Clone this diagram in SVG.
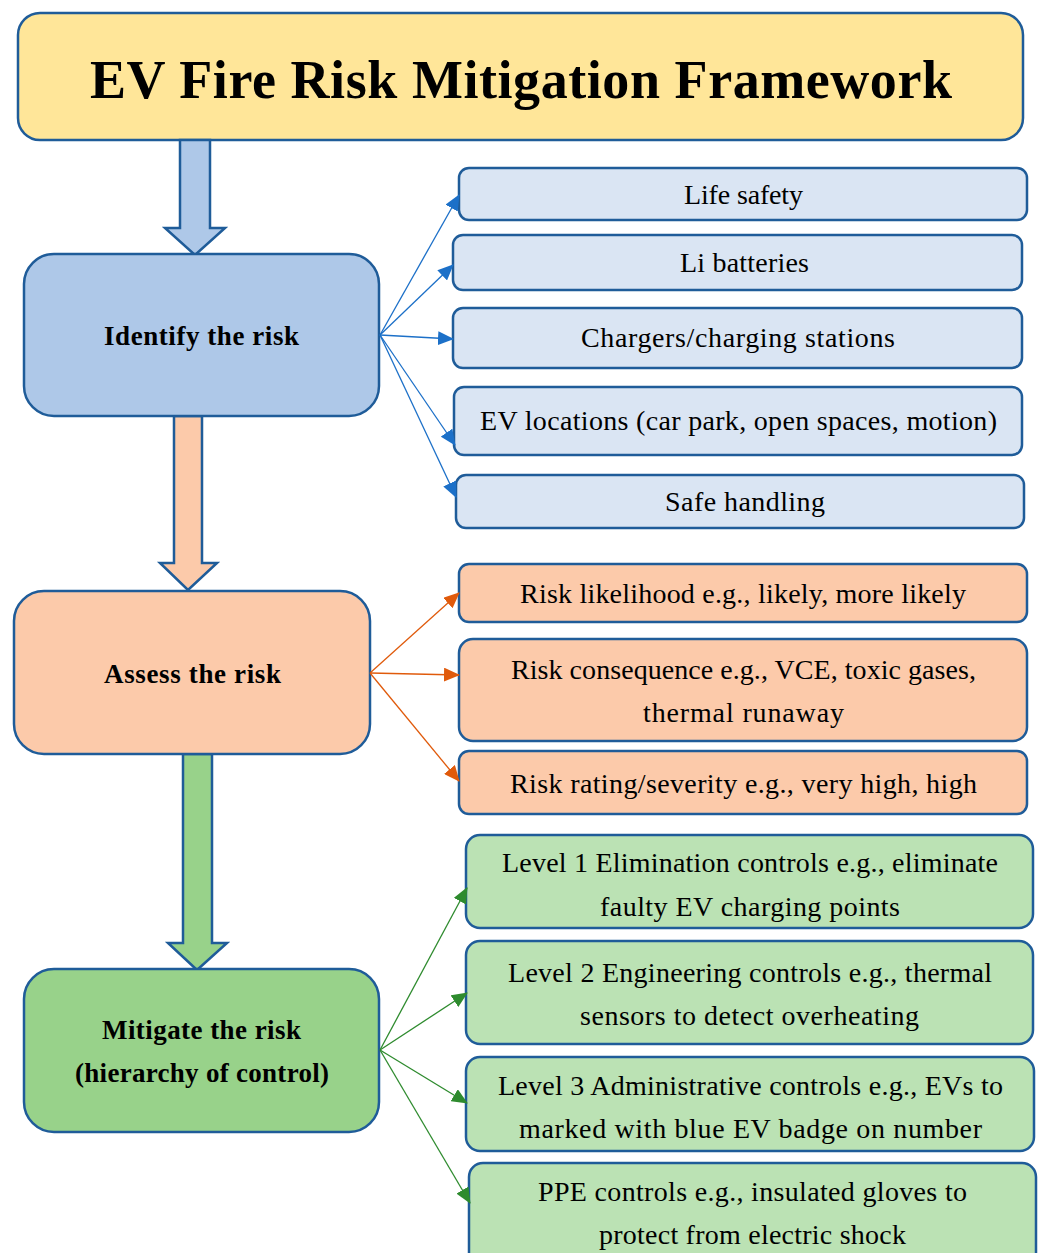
<svg xmlns="http://www.w3.org/2000/svg" width="1040" height="1253" viewBox="0 0 1040 1253">
<defs>
<style>
.box{stroke:#1F5C99;stroke-width:2.5}
.title{fill:#FFE699}
.blue{fill:#AEC8E8}
.lblue{fill:#DAE5F3}
.peach{fill:#FCCAAA}
.green{fill:#98D28A}
.lgreen{fill:#BBE2B4}
text{font-family:"Liberation Serif","Times New Roman",serif;fill:#000;text-anchor:middle}
.t{font-size:54px;font-weight:bold}
.h{font-size:27px;font-weight:bold}
.s{font-size:28px}
.cb{stroke:#1C70C8;stroke-width:1.3;fill:none}
.co{stroke:#E05A0B;stroke-width:1.3;fill:none}
.cg{stroke:#2E8B2E;stroke-width:1.3;fill:none}
</style>
<marker id="mb" markerWidth="16" markerHeight="14" refX="15" refY="7" orient="auto" markerUnits="userSpaceOnUse"><path d="M0,0 L16,7 L0,14 Z" fill="#1C70C8"/></marker>
<marker id="mo" markerWidth="16" markerHeight="14" refX="15" refY="7" orient="auto" markerUnits="userSpaceOnUse"><path d="M0,0 L16,7 L0,14 Z" fill="#E05A0B"/></marker>
<marker id="mg" markerWidth="16" markerHeight="14" refX="15" refY="7" orient="auto" markerUnits="userSpaceOnUse"><path d="M0,0 L16,7 L0,14 Z" fill="#2E8B2E"/></marker>
</defs>
<rect width="1040" height="1253" fill="#fff"/>

<g id="title">
<rect class="box title" x="18" y="13" width="1005" height="127" rx="22"/>
<text class="t" x="521" y="98" textLength="862" lengthAdjust="spacing">EV Fire Risk Mitigation Framework</text>
</g>

<g id="flow-arrows">
<path class="box blue" d="M180,140 L210,140 L210,228 L225,228 L195,255 L165,228 L180,228 Z"/>
<path class="box peach" d="M174,416 L202,416 L202,563 L217,563 L188,590 L160,563 L174,563 Z"/>
<path class="box green" d="M183,754 L212,754 L212,943 L227,943 L197,970 L168,943 L183,943 Z"/>
</g>

<g id="identify">
<rect class="box blue" x="24" y="254" width="355" height="162" rx="30"/>
<text class="h" x="201.5" y="345" textLength="195" lengthAdjust="spacing">Identify the risk</text>
</g>
<g id="assess">
<rect class="box peach" x="14" y="591" width="356" height="163" rx="30"/>
<text class="h" x="192.5" y="683" textLength="177" lengthAdjust="spacing">Assess the risk</text>
</g>
<g id="mitigate">
<rect class="box green" x="24" y="969" width="355" height="163" rx="30"/>
<text class="h" x="201.5" y="1039" textLength="199" lengthAdjust="spacing">Mitigate the risk</text>
<text class="h" x="202" y="1082" textLength="254" lengthAdjust="spacing">(hierarchy of control)</text>
</g>

<g id="life-safety"><rect class="box lblue" x="459" y="168" width="568" height="52" rx="10"/><text class="s" x="743.5" y="204" textLength="119" lengthAdjust="spacing">Life safety</text></g>
<g id="li-batteries"><rect class="box lblue" x="453" y="235" width="569" height="55" rx="10"/><text class="s" x="744.5" y="272" textLength="129" lengthAdjust="spacing">Li batteries</text></g>
<g id="chargers"><rect class="box lblue" x="453" y="308" width="569" height="60" rx="10"/><text class="s" x="738" y="347" textLength="314" lengthAdjust="spacing">Chargers/charging stations</text></g>
<g id="ev-locations"><rect class="box lblue" x="454" y="387" width="568" height="68" rx="10"/><text class="s" x="738.5" y="430" textLength="517" lengthAdjust="spacing">EV locations (car park, open spaces, motion)</text></g>
<g id="safe-handling"><rect class="box lblue" x="456" y="475" width="568" height="53" rx="10"/><text class="s" x="745" y="511" textLength="160" lengthAdjust="spacing">Safe handling</text></g>

<g id="likelihood"><rect class="box peach" x="459" y="564" width="568" height="58" rx="10"/><text class="s" x="743" y="603" textLength="446" lengthAdjust="spacing">Risk likelihood e.g., likely, more likely</text></g>
<g id="consequence"><rect class="box peach" x="459" y="639" width="568" height="102" rx="14"/><text class="s" x="743.5" y="679" textLength="465" lengthAdjust="spacing">Risk consequence e.g., VCE, toxic gases,</text><text class="s" x="743.5" y="722" textLength="201" lengthAdjust="spacing">thermal runaway</text></g>
<g id="rating"><rect class="box peach" x="459" y="751" width="568" height="63" rx="10"/><text class="s" x="743.5" y="793" textLength="467" lengthAdjust="spacing">Risk rating/severity e.g., very high, high</text></g>

<g id="level1"><rect class="box lgreen" x="466" y="835" width="567" height="93" rx="14"/><text class="s" x="750" y="872" textLength="496" lengthAdjust="spacing">Level 1 Elimination controls e.g., eliminate</text><text class="s" x="750" y="916" textLength="300" lengthAdjust="spacing">faulty EV charging points</text></g>
<g id="level2"><rect class="box lgreen" x="466" y="941" width="567" height="103" rx="14"/><text class="s" x="750" y="982" textLength="484" lengthAdjust="spacing">Level 2 Engineering controls e.g., thermal</text><text class="s" x="749.5" y="1025" textLength="339" lengthAdjust="spacing">sensors to detect overheating</text></g>
<g id="level3"><rect class="box lgreen" x="466" y="1057" width="568" height="94" rx="14"/><text class="s" x="750.5" y="1095" textLength="505" lengthAdjust="spacing">Level 3 Administrative controls e.g., EVs to</text><text class="s" x="750.5" y="1138" textLength="463" lengthAdjust="spacing">marked with blue EV badge on number</text></g>
<g id="ppe"><rect class="box lgreen" x="469" y="1163" width="567" height="110" rx="14"/><text class="s" x="752.5" y="1201" textLength="429" lengthAdjust="spacing">PPE controls e.g., insulated gloves to</text><text class="s" x="752.5" y="1244" textLength="307" lengthAdjust="spacing">protect from electric shock</text></g>

<g id="connectors">
<line class="cb" x1="380" y1="335" x2="459" y2="195" marker-end="url(#mb)"/>
<line class="cb" x1="380" y1="335" x2="453" y2="265" marker-end="url(#mb)"/>
<line class="cb" x1="380" y1="335" x2="453" y2="339" marker-end="url(#mb)"/>
<line class="cb" x1="380" y1="335" x2="455" y2="445" marker-end="url(#mb)"/>
<line class="cb" x1="380" y1="335" x2="456" y2="497" marker-end="url(#mb)"/>
<line class="co" x1="370" y1="673" x2="459" y2="593" marker-end="url(#mo)"/>
<line class="co" x1="370" y1="673" x2="459" y2="675" marker-end="url(#mo)"/>
<line class="co" x1="370" y1="673" x2="459" y2="781" marker-end="url(#mo)"/>
<line class="cg" x1="380" y1="1050" x2="467" y2="888" marker-end="url(#mg)"/>
<line class="cg" x1="380" y1="1050" x2="467" y2="993" marker-end="url(#mg)"/>
<line class="cg" x1="380" y1="1050" x2="467" y2="1103" marker-end="url(#mg)"/>
<line class="cg" x1="380" y1="1050" x2="470" y2="1203" marker-end="url(#mg)"/>
</g>
</svg>
